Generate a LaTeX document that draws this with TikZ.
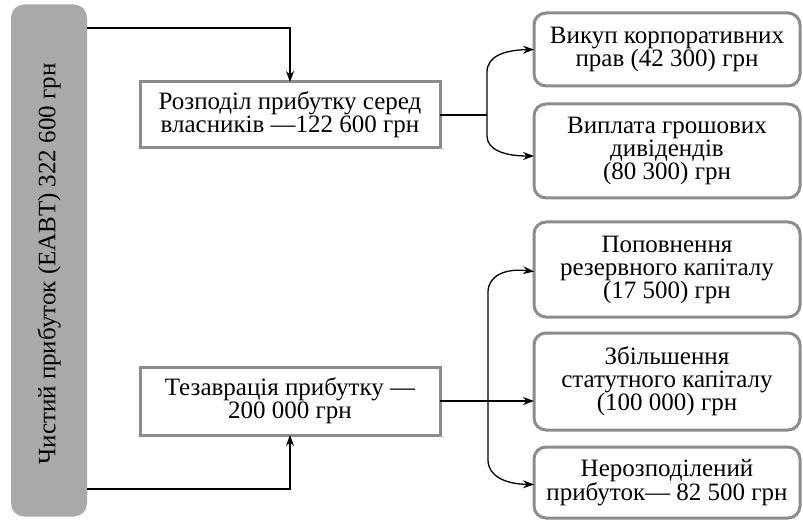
\documentclass[tikz,border=0pt]{standalone}
\usepackage{fontspec}
\setmainfont{Liberation Serif}
\usetikzlibrary{arrows.meta}
\definecolor{boxgray}{HTML}{8C8C8C}
\definecolor{fillgray}{HTML}{A9A9A9}
\begin{document}
\begin{tikzpicture}[x=1pt,y=-1pt,
  txt/.style={font=\fontsize{25}{23}\selectfont, align=center},
  sqbox/.style={txt, draw=boxgray, line width=3pt, fill=white, inner sep=2pt, outer sep=0pt},
  rbox/.style={txt, draw=boxgray, line width=3pt, fill=white, rounded corners=12pt, minimum width=266pt, inner sep=2pt, outer sep=0pt},
  arr/.style={line width=1.3pt, -{Stealth[length=11pt,width=8pt]}},
  ln/.style={line width=1.3pt}]
\useasboundingbox (0,0) rectangle (803,521);
% left source box
\node (src) [fill=fillgray, rounded corners=13pt, minimum width=76pt, minimum height=512pt, inner sep=0pt, outer sep=0pt] at (49,260.5) {};
\node (srctxt) [font=\fontsize{25}{23}\selectfont, rotate=90] at (49,264) {Чистий прибуток (ЕАВТ) 322 600 грн};
% middle boxes
\node (dist) [sqbox, minimum width=300pt, minimum height=66pt] at (290,115) {Розподіл прибутку серед\\власників —122 600 грн};
\node (tez) [sqbox, minimum width=300pt, minimum height=68pt] at (290,401) {Тезаврація прибутку —\\200 000 грн};
% right boxes
\node (r1) [rbox, minimum height=73pt] at (667,49.5) {Викуп корпоративних\\прав (42 300) грн};
\node (r2) [rbox, minimum height=94pt] at (667,151) {Виплата грошових\\дивідендів\\(80 300) грн};
\node (r3) [rbox, minimum height=95pt] at (667,269.5) {Поповнення\\резервного капіталу\\(17 500) грн};
\node (r4) [rbox, minimum height=97pt] at (667,381.5) {Збільшення\\статутного капіталу\\(100 000) грн};
\node (r5) [rbox, minimum height=71pt] at (667,482.5) {Нерозподілений\\прибуток— 82 500 грн};
% connectors from source
\draw[arr] (src.east |- 0,28) -| (dist.north);
\draw[arr] (src.east |- 0,489) -| (tez.south);
% upper bracket
\coordinate (j1) at (487,115);
\draw[ln] (dist.east) -- (j1);
\draw[arr] (j1) -- (487,72) .. controls (487,56) and (505,50) .. (r1.west);
\draw[arr] (j1) -- (487,136) .. controls (487,150) and (505,156) .. ([yshift=-5pt]r2.west);
% lower bracket
\coordinate (j2) at (488,398);
\draw[arr] (tez.east) -- (tez.east -| r4.west);
\draw[arr] (j2) -- (488,292) .. controls (488,276) and (505,268) .. ([yshift=-2pt]r3.west);
\draw[arr] (j2) -- (488,460) .. controls (488,476) and (505,484) .. ([yshift=-2pt]r5.west);
\end{tikzpicture}
\end{document}
